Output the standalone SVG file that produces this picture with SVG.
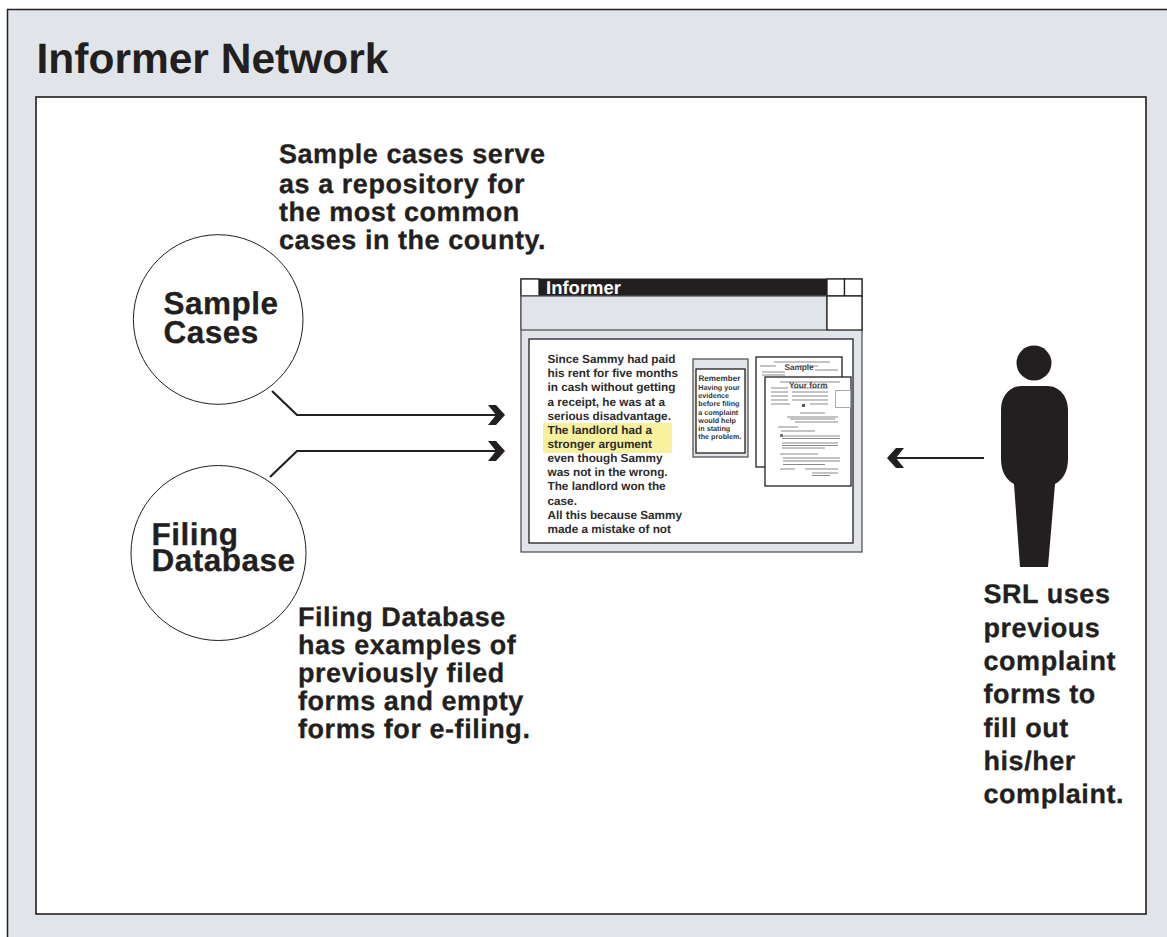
<svg xmlns="http://www.w3.org/2000/svg" width="1167" height="937" viewBox="0 0 1167 937">
<style>
text{font-family:"Liberation Sans",Arial,sans-serif;font-weight:700;fill:#231f20;text-rendering:geometricPrecision}
.t{font-size:27px;letter-spacing:.55px;stroke:#231f20;stroke-width:.3px}
.n{font-size:31.500px;letter-spacing:.5px;stroke:#231f20;stroke-width:.3px}
.c{font-size:11.750px;fill:#2b2b2b}
.r{font-size:7.200px;fill:#333}
.s{font-size:8.200px;fill:#444}
.b{fill:#fff;stroke:#231f20;stroke-width:1.3}
.o{fill:#fff;stroke:#231f20;stroke-width:1}
.g{fill:#e1e4e9;stroke:#555;stroke-width:1.3}
.l{fill:none;stroke:#231f20;stroke-width:2.2}
.f{stroke:#8a8a8a;stroke-width:1.2;fill:none;filter:url(#soft)}
</style>
<defs>
<path id="chev" d="M-17-10H-9L0 0L-9 10H-17L-9 0Z" fill="#231f20"/>
<filter id="soft" x="-5%" y="-5%" width="110%" height="110%"><feGaussianBlur stdDeviation="0.6"/></filter>
</defs>
<rect width="1167" height="937" fill="#fff"/>
<g id="frame">
<rect x="7.500" y="9.500" width="1170" height="940" fill="#e1e4e9" stroke="#231f20" stroke-width="1.500"/>
<rect x="36" y="97" width="1110" height="817" class="b" style="stroke-width:1.600"/>
<text x="36.500" y="73" style="font-size:42.500px">Informer Network</text>
</g>
<g id="sample-cases">
<circle cx="218.200" cy="319.500" r="84.800" class="o"/>
<text x="163.500" y="314" class="n">Sample</text>
<text x="163.500" y="342.500" class="n">Cases</text>
</g>
<g id="filing-database">
<circle cx="218.500" cy="553" r="87.500" class="o"/>
<text x="151.500" y="544.500" class="n">Filing</text>
<text x="151.500" y="571" class="n">Database</text>
</g>
<g id="note-sample">
<text x="279" y="163" class="t">Sample cases serve</text>
<text x="279" y="193" class="t">as a repository for</text>
<text x="279" y="221" class="t">the most common</text>
<text x="279" y="249" class="t">cases in the county.</text>
</g>
<g id="note-filing">
<text x="298" y="626" class="t">Filing Database</text>
<text x="298" y="654" class="t">has examples of</text>
<text x="298" y="682" class="t">previously filed</text>
<text x="298" y="710" class="t">forms and empty</text>
<text x="298" y="737.500" class="t">forms for e-filing.</text>
</g>
<g id="note-srl">
<text x="983.500" y="603" class="t">SRL uses</text>
<text x="983.500" y="637" class="t">previous</text>
<text x="983.500" y="670" class="t">complaint</text>
<text x="983.500" y="703" class="t">forms to</text>
<text x="983.500" y="737" class="t">fill out</text>
<text x="983.500" y="770" class="t">his/her</text>
<text x="983.500" y="803" class="t">complaint.</text>
</g>
<g id="informer-window">
<rect x="521" y="279" width="341" height="273" class="g"/>
<rect x="539" y="279" width="288" height="17" fill="#231f20"/>
<rect x="521" y="279" width="18" height="17" class="b"/>
<rect x="827" y="279" width="17.500" height="17" class="b"/>
<rect x="844.500" y="279" width="17.500" height="17" class="b"/>
<rect x="521" y="296" width="306" height="34" class="g"/>
<rect x="827" y="296" width="35" height="34" class="b"/>
<text x="546" y="294" style="font-size:18.500px;fill:#fff">Informer</text>
<rect x="529" y="339" width="324" height="204" class="b"/>
<rect x="543" y="423" width="129" height="30" fill="#f7f09c"/>
<text x="547.500" y="363" class="c">Since Sammy had paid</text>
<text x="547.500" y="377" class="c">his rent for five months</text>
<text x="547.500" y="391" class="c">in cash without getting</text>
<text x="547.500" y="406" class="c">a receipt, he was at a</text>
<text x="547.500" y="420" class="c">serious disadvantage.</text>
<text x="547.500" y="434" class="c">The landlord had a</text>
<text x="547.500" y="448" class="c">stronger argument</text>
<text x="547.500" y="462" class="c">even though Sammy</text>
<text x="547.500" y="476" class="c">was not in the wrong.</text>
<text x="547.500" y="490" class="c">The landlord won the</text>
<text x="547.500" y="505" class="c">case.</text>
<text x="547.500" y="519" class="c">All this because Sammy</text>
<text x="547.500" y="533" class="c">made a mistake of not</text>
<rect x="693" y="359" width="55" height="98" class="g"/>
<rect x="696" y="369" width="49" height="84" class="b"/>
<text x="698.500" y="381" style="font-size:8.100px;fill:#333">Remember</text>
<text x="698.300" y="390" class="r">Having your</text>
<text x="698.300" y="398" class="r">evidence</text>
<text x="698.300" y="406" class="r">before filing</text>
<text x="698.300" y="415" class="r">a complaint</text>
<text x="698.300" y="423" class="r">would help</text>
<text x="698.300" y="431" class="r">in stating</text>
<text x="698.300" y="439" class="r">the problem.</text>
<rect x="756" y="357" width="86" height="110" class="b"/>
<path class="f" d="M774 362H830M760 366H776M762 372H785M800 366H818M815 370H838M762 375H785"/>
<text x="784.500" y="370" class="s">Sample</text>
<rect x="765" y="377" width="86" height="109" class="b"/>
<path class="f" d="M780 382H840M771 388H788M792 388H828M771 392H788M792 392H828M771 396H788M792 396H828M771 400H788M792 400H828M771 404H790M810 404H828M800 413H825M787 417H838M790 419H835M795 422H838M778 427H798M781 431H815M782 436H840M782 438.500H840M782 443H838M782 445.500H838M782 448H825M780 454H818M783 458H840M783 461H840M783 464.500H825M780 469H795M805 469H838M812 473H838M812 475.500H830"/>
<rect x="802" y="404" width="3" height="3" fill="#555"/>
<rect x="780" y="434" width="3" height="3" fill="#777"/>
<rect x="835.500" y="390.500" width="15" height="17" fill="none" stroke="#aaa"/>
<text x="789" y="387.500" class="s">Your form</text>
</g>
<g id="srl-person">
<circle cx="1034" cy="363" r="17.500" fill="#231f20"/>
<path fill="#231f20" d="M1022 386H1047C1060 386 1068 397 1068 410V459C1068 471 1063 480 1055 484L1048 567H1020L1014 484C1006 480 1001 471 1001 459V410C1001 397 1009 386 1022 386Z"/>
</g>
<g id="connectors">
<path class="l" d="M272 391L297 415H500"/>
<use href="#chev" transform="translate(505 415)"/>
<path class="l" d="M270 477L297 451H500"/>
<use href="#chev" transform="translate(505 451)"/>
<path class="l" d="M984 458H892"/>
<use href="#chev" transform="translate(887 458) rotate(180)"/>
</g>
</svg>
